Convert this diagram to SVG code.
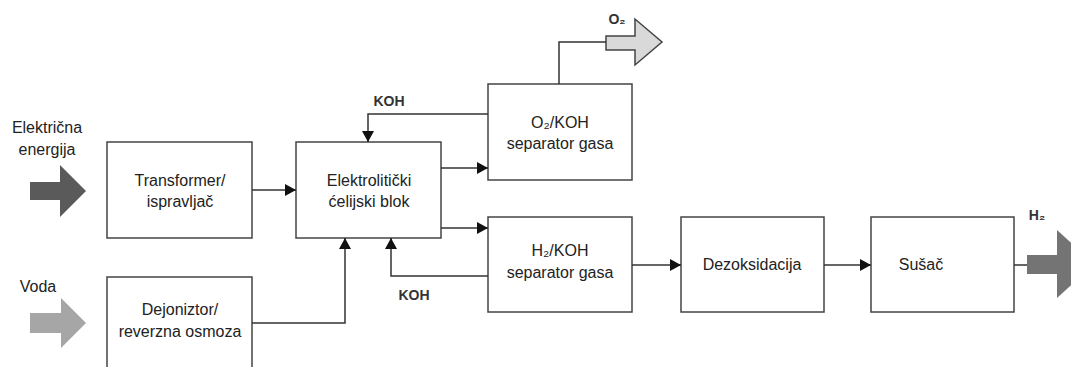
<svg xmlns="http://www.w3.org/2000/svg" width="1071" height="367" viewBox="0 0 1071 367">
<defs>
<marker id="ah" markerWidth="11" markerHeight="12" refX="11" refY="6" orient="auto" markerUnits="userSpaceOnUse">
<path d="M0,0 L11,6 L0,12 Z" fill="#111"/>
</marker>
<style>
.box{fill:#fff;stroke:#444;stroke-width:1.5}
.ln{fill:none;stroke:#333;stroke-width:1.5}
text{font-family:"Liberation Sans",Arial,sans-serif;font-size:16px;fill:#222}
.c{text-anchor:middle}
.lbl{font-size:14px;font-weight:bold;fill:#333}
</style>
</defs>
<rect width="1071" height="367" fill="#fff"/>

<g id="input-electric">
<polygon points="30,182 60,182 60,165 86,191 60,217 60,200 30,200" fill="#5a5a5a"/>
<text x="47" y="133" class="c">Električna</text>
<text x="47" y="155" class="c">energija</text>
</g>
<g id="input-water">
<polygon points="30,313 61,313 61,298 86,323 61,348 61,333 30,333" fill="#a6a6a6"/>
<text x="38" y="292" class="c">Voda</text>
</g>
<g id="transformer">
<rect class="box" x="107" y="142" width="145" height="96"/>
<text x="180" y="186" class="c">Transformer/</text>
<text x="180" y="207" class="c">ispravljač</text>
</g>
<g id="dejonizator">
<rect class="box" x="107" y="277" width="145" height="100"/>
<text x="180" y="315" class="c">Dejoniztor/</text>
<text x="180" y="337" class="c">reverzna osmoza</text>
</g>
<g id="elektroliticki">
<rect class="box" x="296" y="142" width="145" height="96"/>
<text x="369" y="186" class="c">Elektrolitički</text>
<text x="369" y="207" class="c">ćelijski blok</text>
</g>
<g id="o2-separator">
<rect class="box" x="488" y="84" width="144" height="96"/>
<text x="560" y="128" class="c">O₂/KOH</text>
<text x="560" y="149" class="c">separator gasa</text>
</g>
<g id="h2-separator">
<rect class="box" x="488" y="217" width="144" height="95"/>
<text x="560" y="256" class="c">H₂/KOH</text>
<text x="560" y="278" class="c">separator gasa</text>
</g>
<g id="dezoksidacija">
<rect class="box" x="681" y="217" width="143" height="95"/>
<text x="752" y="270" class="c">Dezoksidacija</text>
</g>
<g id="susac">
<rect class="box" x="871" y="217" width="143" height="95"/>
<text x="921" y="270" class="c">Sušač</text>
</g>
<g id="output-o2">
<polygon points="606,36 635,36 635,19 662,42 635,65 635,50 606,50" fill="#d9d9d9" stroke="#444" stroke-width="1.5"/>
<text x="617" y="24" class="c lbl">O₂</text>
</g>
<g id="output-h2">
<polygon points="1027,255 1057,255 1057,230 1094,264 1057,298 1057,274 1027,274" fill="#747474"/>
<text x="1037" y="220" class="c lbl">H₂</text>
</g>

<g id="connectors">
<line class="ln" x1="252" y1="190" x2="296" y2="190" marker-end="url(#ah)"/>
<polyline class="ln" points="252,323 345,323 345,238" marker-end="url(#ah)"/>
<line class="ln" x1="441" y1="168" x2="488" y2="168" marker-end="url(#ah)"/>
<line class="ln" x1="441" y1="228" x2="488" y2="228" marker-end="url(#ah)"/>
<polyline class="ln" points="488,114 368,114 368,142" marker-end="url(#ah)"/>
<polyline class="ln" points="488,276 391,276 391,238" marker-end="url(#ah)"/>
<polyline class="ln" points="559,84 559,42 606,42"/>
<line class="ln" x1="632" y1="265" x2="681" y2="265" marker-end="url(#ah)"/>
<line class="ln" x1="824" y1="265" x2="871" y2="265" marker-end="url(#ah)"/>
<line class="ln" x1="1014" y1="265" x2="1027" y2="265"/>
<text x="389" y="106" class="c lbl">KOH</text>
<text x="414" y="300" class="c lbl">KOH</text>
</g>
</svg>
